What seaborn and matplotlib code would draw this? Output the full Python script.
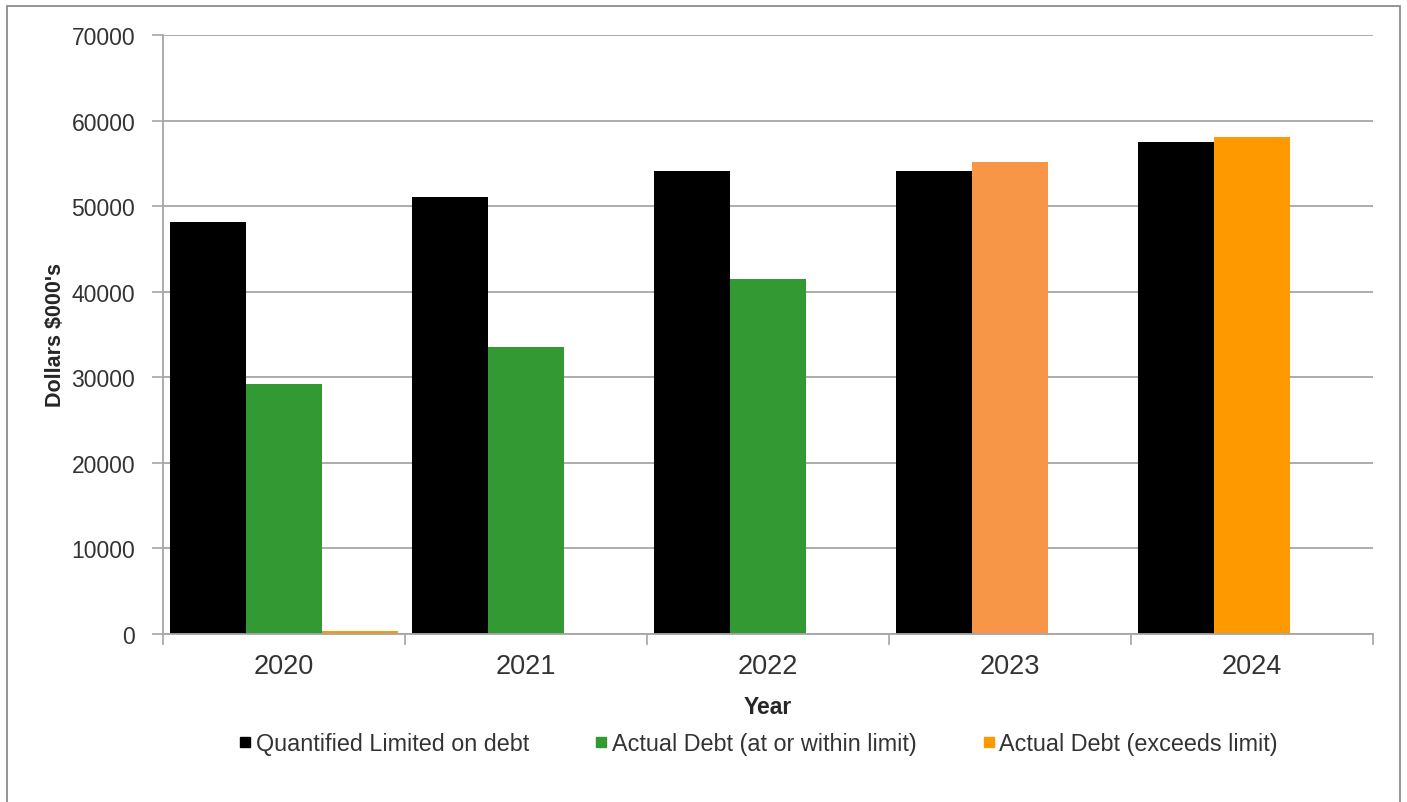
import numpy as np
import pandas as pd
import matplotlib
matplotlib.use("Agg")
import matplotlib.pyplot as plt
import seaborn as sns
from matplotlib.lines import Line2D
from matplotlib.ticker import FixedLocator

years = ["2020", "2021", "2022", "2023", "2024"]
limit_vals = [48100, 51100, 54100, 54100, 57500]
actual_vals = [29200, 33500, 41500, 55200, 58100]
exceeds_vals = [350, 0, 0, 0, 0]
series_names = ["Quantified Limited on debt",
                "Actual Debt (at or within limit)",
                "Actual Debt (exceeds limit)"]
y_ticks = [0, 10000, 20000, 30000, 40000, 50000, 60000, 70000]

c_black = "#000000"
c_green = "#339933"
c_orange = "#FF9900"
c_orange_light = "#F79646"

sns.set_theme(style="white")
plt.rcParams["font.family"] = ["Liberation Sans", "DejaVu Sans"]

df = pd.DataFrame({
    "Year": years * 3,
    "Value": limit_vals + actual_vals + exceeds_vals,
    "Series": [series_names[0]] * 5 + [series_names[1]] * 5 + [series_names[2]] * 5,
})

fig = plt.figure(figsize=(14.07, 8.03), dpi=100)
ax = fig.add_axes([163 / 1407, 1 - 635 / 803, (1373 - 163) / 1407, (635 - 36) / 803])

sns.barplot(data=df, x="Year", y="Value", hue="Series",
            palette=[c_black, c_green, c_orange], width=0.94, gap=0,
            saturation=1, legend=False, ax=ax, linewidth=0)

# bars of the actual-debt series that exceed the limit are shown in orange
cont = ax.containers[1]
cont.patches[3].set_facecolor(c_orange_light)
cont.patches[4].set_facecolor(c_orange)

ax.set_xlim(-0.5, 4.5)
ax.set_ylim(0, 70000)
ax.set_yticks(y_ticks)
ax.set_yticklabels([str(v) for v in y_ticks], fontsize=16.5, color="#333333")
ax.yaxis.grid(True, color="#A6A6A6", linewidth=1.3)
ax.set_axisbelow(True)
ax.tick_params(axis="y", length=8, width=1.2, color="#A6A6A6", pad=12, left=True)

ax.set_xticks(range(5))
ax.set_xticklabels(years, fontsize=19.5, color="#333333")
ax.tick_params(axis="x", which="major", length=0, pad=14)
ax.xaxis.set_minor_locator(FixedLocator([-0.5, 0.5, 1.5, 2.5, 3.5, 4.5]))
ax.tick_params(axis="x", which="minor", length=8, width=1.2, color="#A6A6A6", bottom=True)

for s in ["top", "right"]:
    ax.spines[s].set_visible(False)
for s in ["left", "bottom"]:
    ax.spines[s].set_color("#A6A6A6")
    ax.spines[s].set_linewidth(1.3)

ax.set_xlabel("Year", fontsize=16.5, fontweight="bold", labelpad=11)
ax.set_ylabel("Dollars $000's", fontsize=15.5, fontweight="bold", labelpad=4)

handles = [Line2D([0], [0], marker="s", color="none", markerfacecolor=c,
                  markeredgecolor=c, markersize=7.5)
           for c in [c_black, c_green, c_orange]]
fig.legend(handles, series_names, loc="center", bbox_to_anchor=(757 / 1407, 1 - 745 / 803),
           ncol=3, frameon=False, fontsize=16.8, handletextpad=0.05, columnspacing=2.7,
           handlelength=0.8, labelcolor="#333333")

# outer border of the chart area
border = plt.Rectangle((7 / 1407, -0.05), (1400 - 7) / 1407, 1.05 - 7 / 803,
                       transform=fig.transFigure, fill=False,
                       edgecolor="#8C8C8C", linewidth=1.3)
fig.patches.append(border)

fig.savefig("out.png", dpi=100)
